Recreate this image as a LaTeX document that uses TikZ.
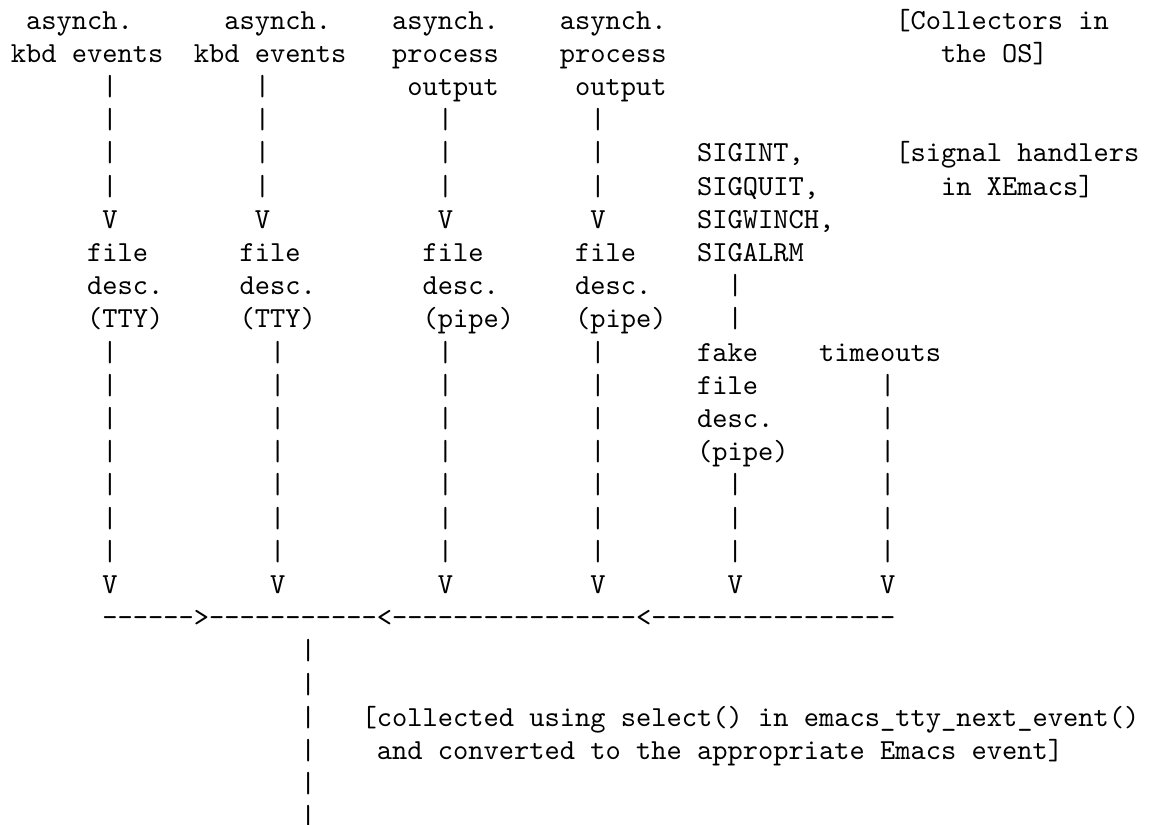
\documentclass[tikz,border=0pt]{standalone}
\frenchspacing
\tikzset{
  txt/.style={anchor=base west, inner sep=0pt, outer sep=0pt,
    font=\ttfamily\fontsize{10}{12}\selectfont, text=black}
}
% place text at column #1, row #2 of the character grid
\newcommand{\atcell}[3]{\node[txt] (r#2c#1) at ({3.75pt+#1*5.25pt},{-10.02pt-(#2-1)*11.43pt}) {#3};}
\begin{document}
\begin{tikzpicture}
\useasboundingbox (0,0) rectangle (397.3pt,-284pt);
\fill[white] (0,0) rectangle (397.3pt,-284pt);
% row 1
\atcell{1}{1}{asynch.}
\atcell{14}{1}{asynch.}
\atcell{25}{1}{asynch.}
\atcell{36}{1}{asynch.}
\atcell{58}{1}{[Collectors in}
% row 2
\atcell{0}{2}{kbd events}
\atcell{12}{2}{kbd events}
\atcell{25}{2}{process}
\atcell{36}{2}{process}
\atcell{61}{2}{the OS]}
% row 3
\atcell{6}{3}{|}
\atcell{16}{3}{|}
\atcell{26}{3}{output}
\atcell{37}{3}{output}
% rows 4-6
\foreach \r in {4,5,6}{\foreach \c in {6,16,28,38}{\atcell{\c}{\r}{|}}}
\atcell{45}{5}{SIGINT,}
\atcell{58}{5}{[signal handlers}
\atcell{45}{6}{SIGQUIT,}
\atcell{61}{6}{in XEmacs]}
% row 7
\foreach \c in {6,16,28,38}{\atcell{\c}{7}{V}}
\atcell{45}{7}{SIGWINCH,}
% row 8
\foreach \c in {5,15,27,37}{\atcell{\c}{8}{file}}
\atcell{45}{8}{SIGALRM}
% row 9
\foreach \c in {5,15,27,37}{\atcell{\c}{9}{desc.}}
\atcell{47}{9}{|}
% row 10
\atcell{5}{10}{(TTY)}
\atcell{15}{10}{(TTY)}
\atcell{27}{10}{(pipe)}
\atcell{37}{10}{(pipe)}
\atcell{47}{10}{|}
% rows 11-17
\foreach \r in {11,...,17}{\foreach \c in {6,17,28,38}{\atcell{\c}{\r}{|}}}
\atcell{45}{11}{fake}
\atcell{53}{11}{timeouts}
\atcell{45}{12}{file}
\atcell{45}{13}{desc.}
\atcell{45}{14}{(pipe)}
\foreach \r in {12,...,17}{\atcell{57}{\r}{|}}
\foreach \r in {15,16,17}{\atcell{47}{\r}{|}}
% row 18
\foreach \c in {6,17,28,38,47,57}{\atcell{\c}{18}{V}}
% row 19: collecting line
\foreach \c in {6,...,57}{%
  \ifnum\c=12 \atcell{\c}{19}{>}%
  \else\ifnum\c=24 \atcell{\c}{19}{<}%
  \else\ifnum\c=41 \atcell{\c}{19}{<}%
  \else \atcell{\c}{19}{-}%
  \fi\fi\fi}
% rows 20-25
\foreach \r in {20,...,25}{\atcell{19}{\r}{|}}
\atcell{23}{22}{[collected using select() in emacs\_tty\_next\_event()}
\atcell{24}{23}{and converted to the appropriate Emacs event]}
\end{tikzpicture}
\end{document}
